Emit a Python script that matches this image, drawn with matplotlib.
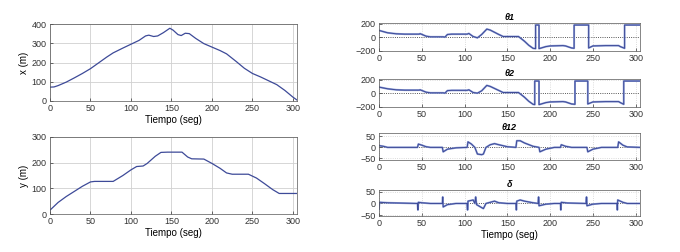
import numpy as np
import matplotlib.pyplot as plt

# Trayectoria x(t), y(t)
t_x = [0, 5, 10, 20, 30, 40, 50, 60, 70, 78, 90, 100, 110, 118, 122, 128, 133, 140, 148,
       152, 158, 162, 167, 172, 180, 190, 200, 210, 218, 230, 240, 250, 260, 270, 280, 290, 300, 305]
x_m = [72, 73, 80, 98, 120, 143, 168, 198, 228, 250, 275, 295, 315, 338, 342, 335, 338, 355, 378,
       368, 345, 340, 352, 350, 325, 298, 280, 262, 245, 205, 170, 143, 125, 105, 85, 55, 20, 5]

t_y = [0, 10, 20, 30, 40, 50, 55, 78, 90, 100, 107, 115, 120, 130, 137, 145, 163, 170, 175,
       190, 200, 210, 218, 225, 245, 255, 265, 275, 283, 290, 305]
y_m = [15, 45, 68, 88, 108, 125, 127, 127, 150, 172, 185, 187, 197, 225, 240, 241, 241, 222, 215,
       214, 197, 178, 160, 155, 155, 140, 118, 95, 80, 80, 80]

# Angulos
t_th1 = [0, 10, 20, 30, 47, 48, 55, 60, 75, 77, 80, 85, 103, 105, 110, 115, 120, 126, 130, 140,
         145, 163, 170, 175, 180, 183, 183, 187, 187, 195, 200, 215, 218, 225, 228, 228, 245, 245,
         250, 265, 280, 282, 287, 287, 305]
th1 = [100, 65, 50, 45, 45, 52, 15, 5, 5, 0, 40, 45, 45, 55, 10, -10, 40, 120, 105, 40,
       10, 10, -60, -120, -165, -170, 180, 180, -170, -140, -130, -125, -130, -160, -165, 180, 180, -160,
       -130, -125, -125, -140, -165, 180, 180]

t_th2 = [0, 10, 20, 30, 47, 48, 55, 60, 75, 77, 80, 85, 103, 105, 110, 115, 120, 126, 130, 140,
         145, 163, 170, 175, 180, 182, 182, 187, 187, 195, 200, 215, 218, 225, 229, 229, 244, 244,
         250, 265, 280, 282, 286, 286, 305]
th2 = [90, 65, 50, 45, 45, 50, 15, 5, 5, 0, 38, 42, 42, 50, 10, 0, 35, 115, 100, 40,
       10, 10, -60, -120, -165, -170, 180, 180, -170, -140, -130, -125, -130, -160, -165, 180, 180, -160,
       -130, -125, -125, -140, -165, 180, 180]

t_th12 = [0, 5, 10, 45, 46, 50, 55, 60, 74, 75, 80, 90, 103, 104, 108, 112, 115, 120, 122, 125,
          130, 135, 140, 150, 160, 161, 165, 170, 180, 187, 188, 195, 205, 212, 213, 218, 225, 243,
          244, 250, 260, 279, 280, 285, 290, 305]
th12 = [8, 5, 0, 0, 15, 10, 3, 0, 0, -20, -8, -2, 0, 25, 15, 0, -30, -33, -30, 0,
        12, 17, 12, 3, 0, 30, 30, 20, 5, 0, -20, -8, 0, 0, 12, 5, 0, 0,
        -20, -8, 0, 0, 25, 10, 2, 0]

t_del = [0, 0.5, 1, 10, 45, 45.5, 46, 50, 60, 74, 74.5, 75, 80, 90, 103, 103.5, 104, 110, 112, 113,
         114, 120, 122, 125, 135, 140, 150, 160, 160.5, 161, 165, 170, 180, 186, 186.5, 187, 195, 205,
         212, 212.5, 213, 220, 242, 242.5, 243, 250, 260, 278, 278.5, 279, 285, 290, 305]
delta = [-25, 5, 5, 3, 0, -28, 5, 3, 0, 0, 28, -15, -5, 0, 0, -28, 10, 15, 0, 28,
         -5, -18, -22, 0, 10, 3, 0, 0, -28, 10, 15, 10, 3, 0, 28, -10, -3, 0,
         0, -28, 5, 2, 0, 28, -10, -3, 0, 0, -28, 15, 5, 0, 0]

azul = "#3d4a98"
plt.rcParams['font.family'] = ['Liberation Sans', 'DejaVu Sans']

fig = plt.figure(figsize=(6.8, 2.52), dpi=100)
W, H = 680.0, 252.0

def ejes(x0, y0, x1, y1):
    return fig.add_axes([x0 / W, 1 - y1 / H, (x1 - x0) / W, (y1 - y0) / H])

def estilo(ax, ls):
    ax.set_xlim(0, 305)
    ax.set_xticks([0, 50, 100, 150, 200, 250, 300])
    ax.grid(True, color="#d0d0d0", linestyle=ls, linewidth=0.6)
    ax.tick_params(direction="in", length=2, width=0.5, pad=2.5, labelsize=6.5, colors="#333333")
    for s in ax.spines.values():
        s.set_linewidth(0.5)
        s.set_color("#555555")

# Izquierda
ax1 = ejes(50, 24, 297, 101)
ax1.plot(t_x, x_m, color=azul, lw=0.9)
estilo(ax1, "-")
ax1.set_ylim(0, 400)
ax1.set_yticks([0, 100, 200, 300, 400])
ax1.set_ylabel("x (m)", fontsize=7, labelpad=2)
ax1.set_xlabel("Tiempo (seg)", fontsize=7, labelpad=1)

ax2 = ejes(50, 137, 297, 214)
ax2.plot(t_y, y_m, color=azul, lw=0.9)
estilo(ax2, "-")
ax2.set_ylim(0, 300)
ax2.set_yticks([0, 100, 200, 300])
ax2.set_ylabel("y (m)", fontsize=7, labelpad=2)
ax2.set_xlabel("Tiempo (seg)", fontsize=7, labelpad=1)

# Derecha
paneles = [
    ((379, 23, 640, 51), t_th1, th1, "θ1", (-205, 210), [-200, 0, 200]),
    ((379, 79, 640, 107), t_th2, th2, "θ2", (-205, 210), [-200, 0, 200]),
    ((379, 133, 640, 160), t_th12, th12, "θ12", (-57, 65), [-50, 0, 50]),
    ((379, 190, 640, 216), t_del, delta, "δ", (-54, 58), [-50, 0, 50]),
]
for i, (caja, tt, vv, titulo, lim, yt) in enumerate(paneles):
    ax = ejes(*caja)
    ax.axhline(0, color="#333333", lw=0.6, ls=":")
    ax.plot(tt, vv, color="#8f9fd6", lw=1.4)
    ax.plot(tt, vv, color=azul, lw=0.7)
    estilo(ax, ":")
    ax.set_ylim(*lim)
    ax.set_yticks(yt)
    ax.set_title(titulo, fontsize=6.5, fontweight="bold", style="italic", pad=2)
    if i == 3:
        ax.set_xlabel("Tiempo (seg)", fontsize=7, labelpad=1)

fig.savefig("out.png", dpi=100)
